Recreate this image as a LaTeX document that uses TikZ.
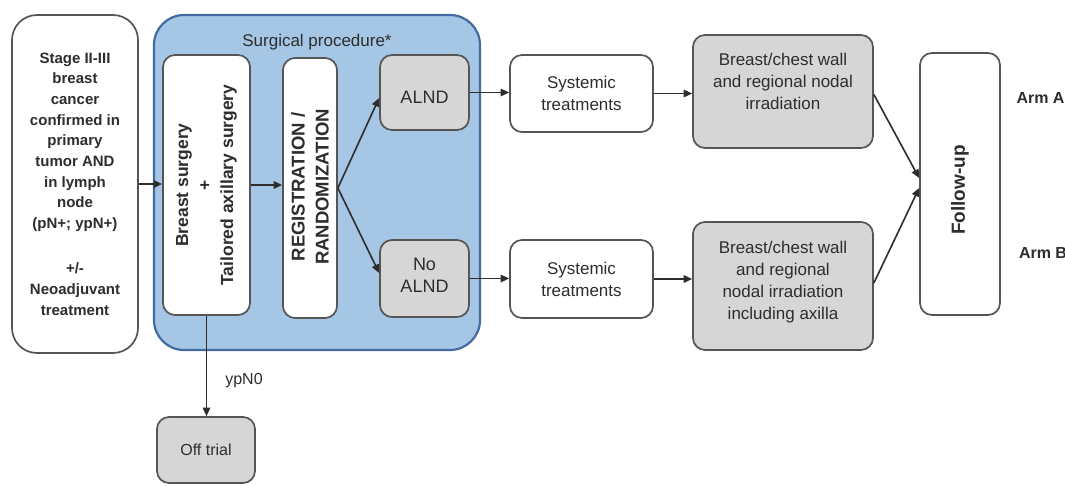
\documentclass[tikz,border=0pt]{standalone}
\usepackage{fontspec}
\setmainfont{Liberation Sans}
\usetikzlibrary{arrows.meta}
\definecolor{bluefill}{RGB}{166,198,230}
\definecolor{blueline}{RGB}{66,108,160}
\definecolor{grayfill}{RGB}{214,214,214}
\definecolor{edge}{RGB}{85,85,85}
\definecolor{txt}{RGB}{45,45,45}
\begin{document}
\begin{tikzpicture}[x=1pt,y=-1pt,
  box/.style={draw=edge, line width=1.7pt, fill=white, rounded corners=12pt, inner sep=0pt, text=txt, align=center},
  graybox/.style={box, fill=grayfill},
  lbl/.style={text=txt, align=center, inner sep=0pt},
  arr/.style={draw=txt, line width=1.6pt, -{Triangle[length=8.5pt,width=7.5pt]}},
  fbig/.style={font=\fontsize{17}{22}\selectfont},
  fleft/.style={font=\fontsize{15}{20.7}\selectfont\bfseries},
  fvert/.style={font=\fontsize{17.5}{22.5}\selectfont\bfseries},
  fsmall/.style={font=\fontsize{16}{20}\selectfont}
]
\useasboundingbox (0,0) rectangle (1065,485);

% left box
\node[box, rounded corners=25pt, minimum width=126pt, minimum height=338pt, fleft] (stage) at (75,184)
  {Stage II-III\\breast\\cancer\\confirmed in\\primary\\tumor AND\\in lymph\\node\\(pN+; ypN+)\\[24.5pt]+/-\\Neoadjuvant\\treatment};

% surgical procedure container
\node[draw=blueline, fill=bluefill, line width=2.2pt, rounded corners=30pt, minimum width=326pt, minimum height=335pt, inner sep=0pt] (surg) at (317,182.5) {};
\node[lbl, fbig] (surglbl) at (317,42) {Surgical procedure*};

% breast surgery
\node[box, minimum width=87pt, minimum height=260pt] (bs) at (206.5,185) {};
\node[lbl, fvert, rotate=90] (bstxt) at (206.5,185) {Breast surgery\\+\\Tailored axillary surgery};

% registration
\node[box, minimum width=54pt, minimum height=260pt] (reg) at (310,188) {};
\node[lbl, font=\fontsize{18.5}{24}\selectfont\bfseries, rotate=90] (regtxt) at (310,187) {REGISTRATION /\\RANDOMIZATION};

% ALND
\node[graybox, minimum width=89pt, minimum height=75pt] (alnd) at (424.5,92.5) {};
\node[lbl, font=\fontsize{18}{22}\selectfont] (alndtxt) at (424.5,97) {ALND};
\node[graybox, minimum width=89pt, minimum height=77pt] (noalnd) at (424.5,278.5) {};
\node[lbl, font=\fontsize{18}{22}\selectfont] (noalndtxt) at (424.5,275) {No\\ALND};

% systemic
\node[box, minimum width=143pt, minimum height=77pt, fbig] (sys1) at (581.5,93.5) {Systemic\\treatments};
\node[box, minimum width=143pt, minimum height=78pt, fbig] (sys2) at (581.5,279) {Systemic\\treatments};

% irradiation
\node[graybox, minimum width=180pt, minimum height=113pt] (bc1) at (783,91.5) {};
\node[lbl, fbig] (bc1txt) at (783,81) {Breast/chest wall\\and regional nodal\\irradiation};
\node[graybox, minimum width=180pt, minimum height=128pt] (bc2) at (783,286) {};
\node[lbl, fbig] (bc2txt) at (783,282) {Breast/chest wall\\and regional\\nodal irradiation\\including axilla};

% follow-up
\node[box, minimum width=80pt, minimum height=262pt] (fu) at (960,184) {};
\node[lbl, font=\fontsize{19}{22}\selectfont\bfseries, rotate=90] (futxt) at (960,190) {Follow-up};

% arms
\node[lbl, font=\fontsize{16}{20}\selectfont\bfseries] (armA) at (1040.5,98) {Arm A};
\node[lbl, font=\fontsize{16}{20}\selectfont\bfseries] (armB) at (1043,253) {Arm B};

% off trial
\node[graybox, minimum width=98pt, minimum height=66pt, fsmall] (off) at (206,450) {Off trial};

% connectors
\draw[arr] (stage.east) -- (stage.east -| bs.west);
\draw[arr] (bs.east) -- (bs.east -| reg.west);
\draw[arr] (reg.east) -- ([yshift=-5.5pt]alnd.west);
\draw[arr] (reg.east) -- ([yshift=5.5pt]noalnd.west);
\draw[arr] (alnd.east) -- (alnd.east -| sys1.west);
\draw[arr] (noalnd.east) -- (noalnd.east -| sys2.west);
\draw[arr] (sys1.east) -- (sys1.east -| bc1.west);
\draw[arr] (sys2.east) -- (sys2.east -| bc2.west);
\draw[arr] ([yshift=-3pt]bc1.east) -- ([yshift=6pt]fu.west);
\draw[arr] ([yshift=3pt]bc2.east) -- ([yshift=-4pt]fu.west);
\draw[arr] (bs.south) -- (bs.south |- off.north) node[pos=0.65, right=18pt, lbl, fsmall] (ypn) {ypN0};
\end{tikzpicture}
\end{document}
